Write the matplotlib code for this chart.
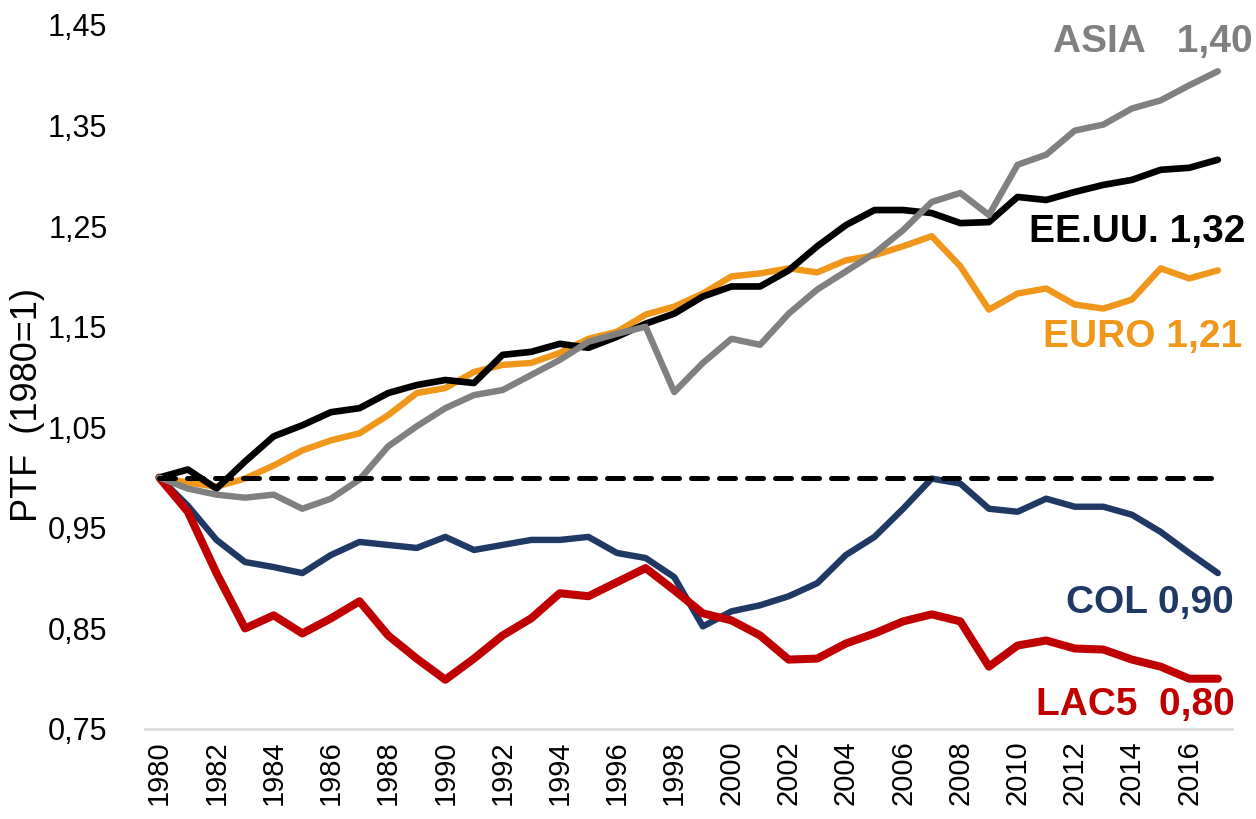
import matplotlib.pyplot as plt
from matplotlib.ticker import FuncFormatter

# PTF index (1980=1) by region
years = list(range(1980, 2018))

asia = [1.000, 0.989, 0.983, 0.980, 0.983, 0.969, 0.979, 0.998, 1.031, 1.051,
        1.069, 1.082, 1.087, 1.102, 1.117, 1.135, 1.143, 1.150, 1.085, 1.114,
        1.138, 1.132, 1.163, 1.187, 1.205, 1.223, 1.246, 1.274, 1.283, 1.261,
        1.311, 1.321, 1.345, 1.351, 1.367, 1.375, 1.390, 1.404]

usa = [1.000, 1.008, 0.989, 1.016, 1.041, 1.052, 1.065, 1.069, 1.084, 1.092,
       1.097, 1.094, 1.122, 1.125, 1.133, 1.129, 1.140, 1.153, 1.163, 1.180,
       1.190, 1.190, 1.206, 1.230, 1.251, 1.266, 1.266, 1.263, 1.253, 1.254,
       1.279, 1.276, 1.284, 1.291, 1.296, 1.306, 1.308, 1.316]

euro = [1.000, 0.995, 0.991, 0.999, 1.012, 1.027, 1.037, 1.044, 1.062, 1.084,
        1.089, 1.105, 1.112, 1.114, 1.124, 1.138, 1.145, 1.162, 1.170, 1.183,
        1.200, 1.203, 1.208, 1.204, 1.216, 1.221, 1.230, 1.240, 1.210, 1.167,
        1.183, 1.188, 1.172, 1.168, 1.177, 1.208, 1.198, 1.206]

col = [1.000, 0.972, 0.938, 0.916, 0.911, 0.905, 0.923, 0.936, 0.933, 0.930,
       0.941, 0.928, 0.933, 0.938, 0.938, 0.941, 0.925, 0.920, 0.901, 0.852,
       0.867, 0.873, 0.882, 0.895, 0.923, 0.941, 0.969, 0.999, 0.994, 0.969,
       0.966, 0.979, 0.971, 0.971, 0.963, 0.946, 0.925, 0.905]

lac5 = [1.000, 0.966, 0.905, 0.850, 0.863, 0.845, 0.860, 0.877, 0.843, 0.820,
        0.799, 0.820, 0.843, 0.860, 0.885, 0.882, 0.896, 0.910, 0.888, 0.865,
        0.858, 0.843, 0.819, 0.820, 0.835, 0.845, 0.857, 0.864, 0.857, 0.812,
        0.833, 0.838, 0.830, 0.829, 0.819, 0.812, 0.800, 0.800]

baseline = 1.0

# end labels (right-aligned), with their anchor points
labels = ["ASIA   1,40", "EE.UU. 1,32", "EURO 1,21", "COL 0,90", "LAC5  0,80"]
label_x = [2018.2, 2017.95, 2017.85, 2017.55, 2017.6]
label_y = [1.433, 1.244, 1.140, 0.875, 0.774]

GRAY = "#808080"
BLACK = "#000000"
ORANGE = "#F0961A"
NAVY = "#1F3864"
RED = "#C00000"

plt.rcParams["font.family"] = ["Liberation Sans", "DejaVu Sans"]

fig = plt.figure(figsize=(12.56, 8.19), dpi=100)
ax = fig.add_axes([0.1154, 0.1099, 0.8656, 0.8596])

ax.plot(years, col, color=NAVY, lw=4.6, solid_capstyle="round", solid_joinstyle="round")
ax.plot(years, lac5, color=RED, lw=5.8, solid_capstyle="round", solid_joinstyle="round")
ax.plot(years, euro, color=ORANGE, lw=4.6, solid_capstyle="round", solid_joinstyle="round")
ax.plot(years, usa, color=BLACK, lw=4.8, solid_capstyle="round", solid_joinstyle="round")
ax.plot(years, asia, color=GRAY, lw=4.6, solid_capstyle="round", solid_joinstyle="round")
ax.hlines(baseline, years[0], years[-1], colors=BLACK, lw=3.6,
          linestyles=(0, (3.2, 2.4)), capstyle="round")

colors = [GRAY, BLACK, ORANGE, NAVY, RED]
for text, xv, yv, c in zip(labels, label_x, label_y, colors):
    ax.text(xv, yv, text, color=c, fontsize=28, fontweight="bold",
            ha="right", va="center")

ax.set_xlim(years[0] - 0.5, years[-1] + 0.5)
ax.set_ylim(0.75, 1.45)
ax.set_xticks(years[::2])
ax.set_xticklabels([str(y) for y in years[::2]], rotation=90)
ax.set_yticks([0.75, 0.85, 0.95, 1.05, 1.15, 1.25, 1.35, 1.45])
ax.yaxis.set_major_formatter(FuncFormatter(lambda v, p: f"{v:.2f}".replace(".", ",")))
ax.tick_params(axis="both", length=0, colors="black")
ax.tick_params(axis="x", pad=8, labelsize=21)
ax.tick_params(axis="y", pad=27, labelsize=22)

for s in ["top", "right", "left"]:
    ax.spines[s].set_visible(False)
ax.spines["bottom"].set_color("#D9D9D9")
ax.spines["bottom"].set_linewidth(1.8)

ax.set_ylabel("PTF  (1980=1)", fontsize=26)
ax.yaxis.set_label_coords(-0.092, 0.46)

fig.savefig("out.png", dpi=100)
